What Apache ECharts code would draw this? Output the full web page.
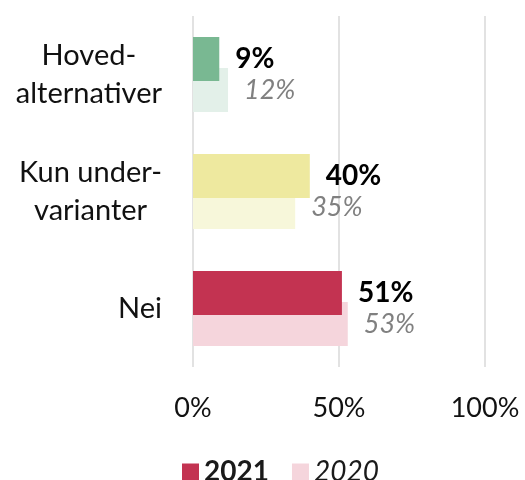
<!DOCTYPE html>
<html>
<head>
<meta charset="utf-8">
<script src="https://cdn.jsdelivr.net/npm/echarts@6/dist/echarts.min.js"></script>
<style>
  html, body { margin: 0; padding: 0; background: #fff; }
  #chart { width: 525px; height: 480px; }
</style>
</head>
<body>
<div id="chart"></div>
<script>
    // data
    var categories = ['Hoved-\nalternativer', 'Kun under-\nvarianter', 'Nei'];
    var values2021 = [9, 40, 51];
    var values2020 = [12, 35, 53];
    var ticks = [0, 50, 100];

    var darkColors = ['#79b892', '#eee99f', '#c33351'];
    var lightColors = ['#e3f0e9', '#f7f7da', '#f5d5dc'];

    var font = 'Lato';

    function coloured(values, colors) {
        return values.map(function (v, i) {
            return { value: v, itemStyle: { color: colors[i] } };
        });
    }

    var myChart = echarts.init(document.getElementById('chart'));
    myChart.setOption({
        animation: false,
        grid: { left: 193, right: 40, top: 16, bottom: 113 },
        legend: {
            left: 177,
            top: 453,
            itemWidth: 17,
            itemHeight: 17,
            itemGap: 23,
            icon: 'rect',
            textStyle: { fontFamily: font, fontSize: 28, color: '#1a1a1a' },
            data: [
                { name: '2021', textStyle: { fontWeight: 'bold' } },
                { name: '2020', textStyle: { fontStyle: 'italic' } }
            ]
        },
        xAxis: {
            type: 'value',
            min: ticks[0],
            max: ticks[ticks.length - 1],
            interval: ticks[1] - ticks[0],
            axisLine: { show: false },
            axisTick: { show: false },
            splitLine: { lineStyle: { color: '#d9d9d9', width: 1.5 } },
            axisLabel: {
                margin: 28,
                fontFamily: font,
                fontSize: 27,
                color: '#111',
                formatter: '{value}%'
            }
        },
        yAxis: {
            type: 'category',
            inverse: true,
            data: categories,
            axisLine: { show: false },
            axisTick: { show: false },
            axisLabel: {
                margin: 31,
                formatter: function (v) {
                    return v.split('\n').map(function (l) { return '{c|' + l + '}'; }).join('\n');
                },
                rich: {
                    c: {
                        align: 'center',
                        fontFamily: font,
                        fontSize: 29,
                        lineHeight: 38,
                        color: '#111'
                    }
                }
            }
        },
        series: [{
            name: '2021',
            type: 'bar',
            z: 3,
            barWidth: 44,
            barGap: '-29.5%',
            itemStyle: { color: darkColors[2] },
            data: coloured(values2021, darkColors),
            label: {
                show: true,
                position: 'right',
                distance: 16,
                formatter: '{c}%',
                fontFamily: font,
                fontSize: 28,
                fontWeight: 'bold',
                color: '#000'
            }
        }, {
            name: '2020',
            type: 'bar',
            z: 2,
            barWidth: 44,
            itemStyle: { color: lightColors[2] },
            data: coloured(values2020, lightColors),
            label: {
                show: true,
                position: 'right',
                distance: 16,
                formatter: '{c}%',
                fontFamily: font,
                fontSize: 27,
                fontStyle: 'italic',
                color: '#808080'
            }
        }]
    });
</script>
</body>
</html>
